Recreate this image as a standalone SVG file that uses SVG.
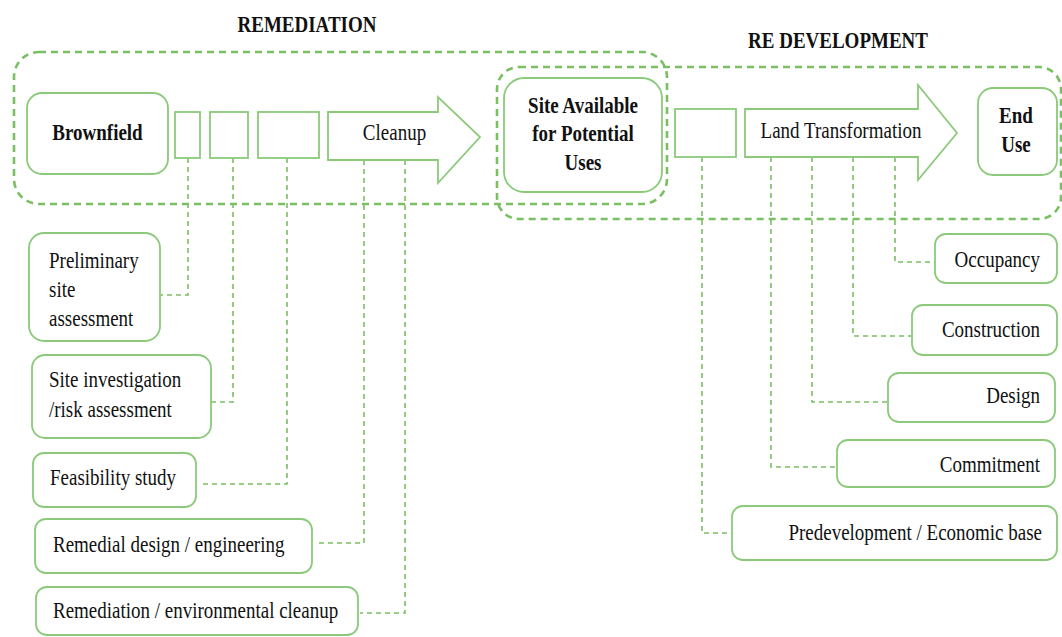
<svg xmlns="http://www.w3.org/2000/svg" width="1062" height="637" viewBox="0 0 1062 637">
<style>
.box{fill:#fff;stroke:#8bca7a;stroke-width:1.8}
.grp{fill:none;stroke:#7bbf63;stroke-width:2.6;stroke-dasharray:7 5}
.con{fill:none;stroke:#7bbf63;stroke-width:1.6;stroke-dasharray:5 4}
.t{font-family:"Liberation Serif","Times New Roman",serif;font-size:19px;fill:#111}
.b{font-weight:bold}
.m{text-anchor:middle}
.e{text-anchor:end}
</style>
<rect width="1062" height="637" fill="#fff"/>
<g id="groups">
<rect class="grp" x="14" y="52" width="653" height="152" rx="25"/>
<rect class="grp" x="497" y="67" width="564" height="152" rx="22"/>
<text class="t b m" transform="translate(307,32) scale(1,1.2)">REMEDIATION</text>
<text class="t b m" transform="translate(838,48) scale(1,1.2)">RE DEVELOPMENT</text>
</g>
<g id="connectors">
<path class="con" d="M188 158V295H160"/>
<path class="con" d="M233 158V402H211"/>
<path class="con" d="M287 158V484H203"/>
<path class="con" d="M364 160V543H315"/>
<path class="con" d="M405 160V613H360"/>
<path class="con" d="M702 157V533H732"/>
<path class="con" d="M771 157V467H837"/>
<path class="con" d="M812 157V402H888"/>
<path class="con" d="M853 157V336H912"/>
<path class="con" d="M895 157V262H935"/>
</g>
<g id="brownfield">
<rect class="box" x="27" y="93" width="141" height="81" rx="15"/>
<text class="t b m" transform="translate(97.5,140) scale(1,1.2)">Brownfield</text>
</g>
<g id="step1"><rect class="box" x="175" y="112" width="25" height="46"/></g>
<g id="step2"><rect class="box" x="210" y="112" width="38" height="46"/></g>
<g id="step3"><rect class="box" x="258" y="112" width="61" height="46"/></g>
<g id="cleanup">
<polygon class="box" points="328,112 438,112 438,97 480,137 438,183 438,160 328,160"/>
<text class="t m" transform="translate(394.5,140) scale(1,1.2)">Cleanup</text>
</g>
<g id="site-available">
<rect class="box" x="504" y="78" width="158" height="114" rx="20"/>
<text class="t b m" transform="translate(583,113) scale(1,1.2)"><tspan x="0" y="0">Site Available</tspan><tspan x="0" dy="23.7">for Potential</tspan><tspan x="0" dy="23.7">Uses</tspan></text>
</g>
<g id="step4"><rect class="box" x="675" y="109" width="61" height="48"/></g>
<g id="land-transformation">
<polygon class="box" points="745,109 918,109 918,85 957,133 918,180 918,157 745,157"/>
<text class="t m" transform="translate(841,138) scale(1,1.2)">Land Transformation</text>
</g>
<g id="end-use">
<rect class="box" x="978" y="88" width="79" height="87" rx="15"/>
<text class="t b m" transform="translate(1016,123) scale(1,1.2)"><tspan x="0" y="0">End</tspan><tspan x="0" dy="24.2">Use</tspan></text>
</g>
<g id="preliminary">
<rect class="box" x="29" y="233" width="131" height="108" rx="15"/>
<text class="t" transform="translate(49,268) scale(1,1.2)"><tspan x="0" y="0">Preliminary</tspan><tspan x="0" dy="24.2">site</tspan><tspan x="0" dy="24.2">assessment</tspan></text>
</g>
<g id="site-investigation">
<rect class="box" x="32" y="355" width="179" height="83" rx="13"/>
<text class="t" transform="translate(49,387) scale(1,1.2)"><tspan x="0" y="0">Site investigation</tspan><tspan x="0" dy="25">/risk assessment</tspan></text>
</g>
<g id="feasibility">
<rect class="box" x="33" y="453" width="163" height="54" rx="11"/>
<text class="t" transform="translate(50,485) scale(1,1.2)">Feasibility study</text>
</g>
<g id="remedial-design">
<rect class="box" x="35" y="519" width="277" height="54" rx="11"/>
<text class="t" transform="translate(53,552) scale(1,1.2)">Remedial design / engineering</text>
</g>
<g id="remediation-cleanup">
<rect class="box" x="36" y="587" width="322" height="48" rx="11"/>
<text class="t" transform="translate(53,618) scale(1,1.2)">Remediation / environmental cleanup</text>
</g>
<g id="occupancy">
<rect class="box" x="935" y="234" width="122" height="49" rx="11"/>
<text class="t e" transform="translate(1040,267) scale(1,1.2)">Occupancy</text>
</g>
<g id="construction">
<rect class="box" x="912" y="305" width="145" height="50" rx="11"/>
<text class="t e" transform="translate(1040,337) scale(1,1.2)">Construction</text>
</g>
<g id="design">
<rect class="box" x="888" y="373" width="167" height="49" rx="11"/>
<text class="t e" transform="translate(1040,403) scale(1,1.2)">Design</text>
</g>
<g id="commitment">
<rect class="box" x="837" y="440" width="218" height="47" rx="11"/>
<text class="t e" transform="translate(1040,472) scale(1,1.2)">Commitment</text>
</g>
<g id="predevelopment">
<rect class="box" x="732" y="506" width="325" height="54" rx="11"/>
<text class="t e" transform="translate(1042,540) scale(1,1.2)">Predevelopment / Economic base</text>
</g>
</svg>
